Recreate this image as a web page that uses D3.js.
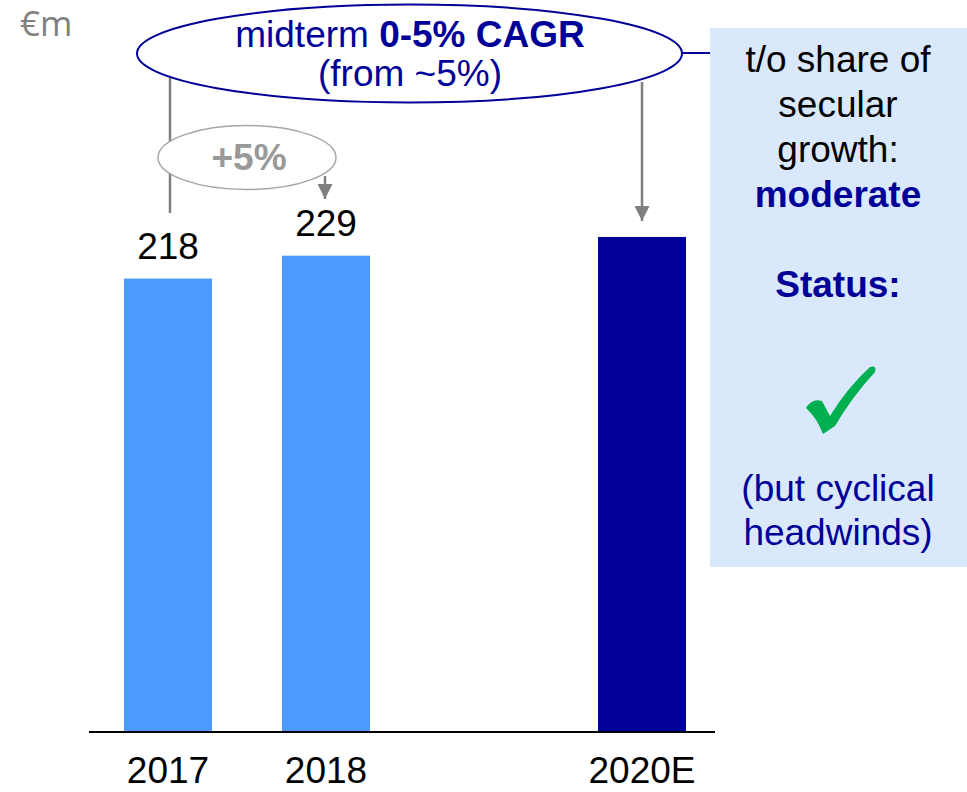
<!DOCTYPE html>
<html>
<head>
<meta charset="utf-8">
<script src="https://cdn.jsdelivr.net/npm/d3@7"></script>
<style>
  body { margin: 0; background: #fff; }
  text { font-family: "Liberation Sans", Arial, sans-serif; }
</style>
</head>
<body>
<svg id="chart" width="967" height="792"></svg>
<script>
// data
const years = ["2017", "2018", "", "2020E"];
const revenue = [218, 229, null, 238];
const valueLabels = ["218", "229", "", ""];
const barColors = ["#4d9bff", "#4d9bff", "none", "#000099"];
const boxLines = [
  { t: "t/o share of", bold: false, blue: false },
  { t: "secular", bold: false, blue: false },
  { t: "growth:", bold: false, blue: false },
  { t: "moderate", bold: true, blue: true },
  { t: "", bold: false, blue: false },
  { t: "Status:", bold: true, blue: true }
];
const boxFoot = ["(but cyclical", "headwinds)"];

const svg = d3.select("#chart");
const navy = "#000099";
const grey = "#7f7f7f";

const x = d3.scaleBand().domain(years).range([89, 721])
  .paddingInner(0.443).paddingOuter(0.2215);
const y = d3.scaleLinear().domain([0, 250]).range([732, 212]);
const cx = d => x(d) + x.bandwidth() / 2;

// unit
svg.append("text").attr("x", 20).attr("y", 36)
  .style("font-family", "'Open Sans', sans-serif")
  .attr("font-size", 35).attr("fill", "#808080").text("€m");

// bars
const data = years.map((yr, i) => ({ yr, v: revenue[i], c: barColors[i], lab: valueLabels[i] }))
  .filter(d => d.v != null);

svg.append("g").selectAll("rect").data(data).join("rect")
  .attr("x", d => x(d.yr)).attr("width", x.bandwidth())
  .attr("y", d => y(d.v)).attr("height", d => y(0) - y(d.v))
  .attr("fill", d => d.c);

svg.append("g").selectAll("text").data(data).join("text")
  .attr("x", d => cx(d.yr)).attr("y", d => y(d.v) - 20)
  .attr("text-anchor", "middle").attr("font-size", 37).attr("fill", "#000")
  .text(d => d.lab);

// baseline + category labels
svg.append("line").attr("x1", 89).attr("x2", 715)
  .attr("y1", y(0)).attr("y2", y(0)).attr("stroke", "#000").attr("stroke-width", 2);

svg.append("g").selectAll("text").data(years).join("text")
  .attr("x", d => cx(d)).attr("y", 783)
  .attr("text-anchor", "middle").attr("font-size", 37).attr("fill", "#000")
  .text(d => d);

// arrowhead
svg.append("defs").append("marker")
  .attr("id", "arr").attr("viewBox", "0 0 10 10").attr("refX", 10).attr("refY", 5)
  .attr("markerUnits", "userSpaceOnUse").attr("markerWidth", 15).attr("markerHeight", 15)
  .attr("orient", "auto")
  .append("path").attr("d", "M0,0 L10,5 L0,10 Z").attr("fill", grey);

// connectors
svg.append("line").attr("x1", cx("2017") + 2).attr("x2", cx("2017") + 2)
  .attr("y1", 78).attr("y2", 213).attr("stroke", grey).attr("stroke-width", 2.5);
svg.append("line").attr("x1", cx("2018") - 1).attr("x2", cx("2018") - 1)
  .attr("y1", 176).attr("y2", 199).attr("stroke", grey).attr("stroke-width", 2.5)
  .attr("marker-end", "url(#arr)");
svg.append("line").attr("x1", cx("2020E")).attr("x2", cx("2020E"))
  .attr("y1", 82).attr("y2", 221).attr("stroke", grey).attr("stroke-width", 2.5)
  .attr("marker-end", "url(#arr)");

// small growth ellipse
svg.append("ellipse").attr("cx", 247).attr("cy", 157.5).attr("rx", 89).attr("ry", 32)
  .attr("fill", "#fff").attr("stroke", "#a6a6a6").attr("stroke-width", 1.5);
svg.append("text").attr("x", 249).attr("y", 170).attr("text-anchor", "middle")
  .attr("font-size", 37).attr("font-weight", "bold").attr("fill", "#999999").text("+5%");

// big CAGR ellipse
svg.append("line").attr("x1", 682).attr("x2", 710).attr("y1", 53).attr("y2", 53)
  .attr("stroke", navy).attr("stroke-width", 2);
svg.append("ellipse").attr("cx", 409.5).attr("cy", 53.5).attr("rx", 272.5).attr("ry", 49)
  .attr("fill", "none").attr("stroke", navy).attr("stroke-width", 2);
const t1 = svg.append("text").attr("x", 410).attr("y", 47).attr("text-anchor", "middle")
  .attr("font-size", 37).attr("fill", navy);
t1.append("tspan").text("midterm ");
t1.append("tspan").attr("font-weight", "bold").text("0-5% CAGR");
svg.append("text").attr("x", 410).attr("y", 86).attr("text-anchor", "middle")
  .attr("font-size", 37).attr("fill", navy).text("(from ~5%)");

// side box
svg.append("rect").attr("x", 710).attr("y", 28).attr("width", 257).attr("height", 539)
  .attr("fill", "#dae8fc");
svg.append("g").selectAll("text").data(boxLines).join("text")
  .attr("x", 838).attr("y", (d, i) => 72 + i * 45)
  .attr("text-anchor", "middle").attr("font-size", 37)
  .attr("font-weight", d => d.bold ? "bold" : "normal")
  .attr("fill", d => d.blue ? navy : "#000")
  .text(d => d.t);
svg.append("g").selectAll("text").data(boxFoot).join("text")
  .attr("x", 838).attr("y", (d, i) => 501 + i * 44)
  .attr("text-anchor", "middle").attr("font-size", 37).attr("fill", navy)
  .text(d => d);

// check mark
svg.append("path")
  .attr("d", "M806,408 Q812,398 822,401 L830,416 Q847,388 870,367 Q877,365 875,372 Q852,397 835,426 L823,434 Q817,418 806,408 Z")
  .attr("fill", "#00b050");
</script>
</body>
</html>
